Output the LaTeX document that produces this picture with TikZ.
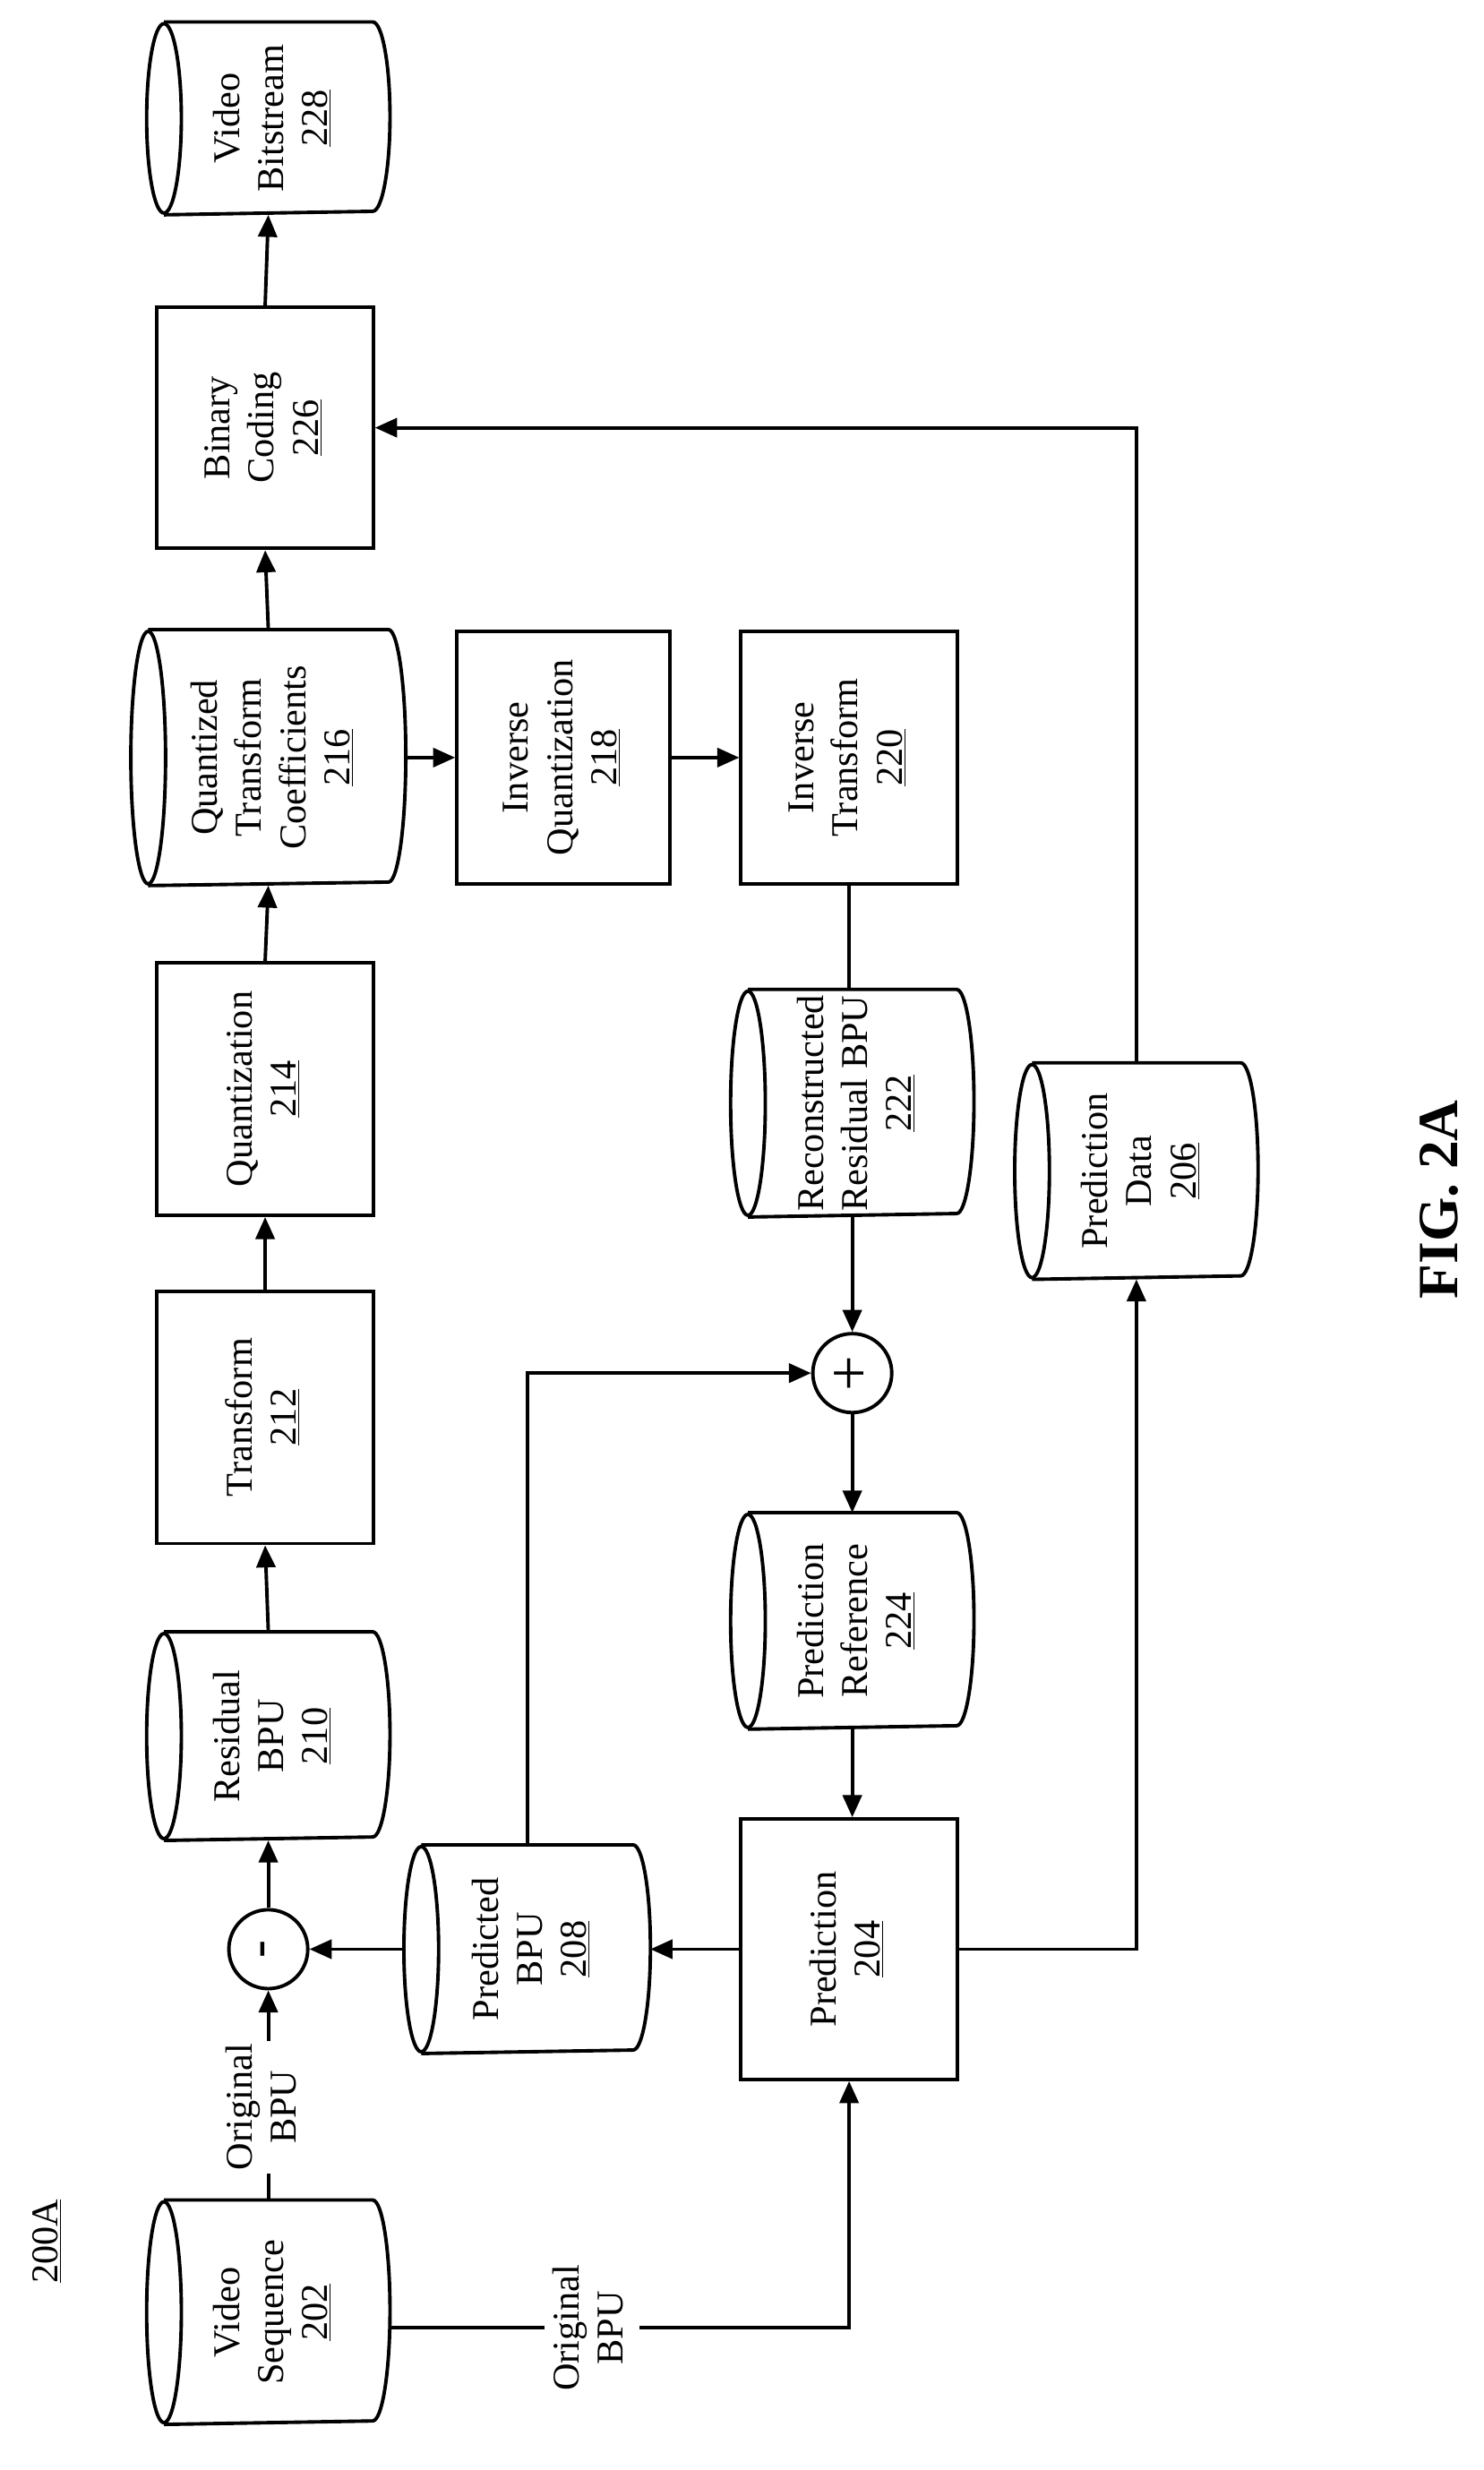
\documentclass[tikz,border=0pt]{standalone}
\usepackage{fontspec}
\setmainfont{Liberation Serif}
\usetikzlibrary{arrows.meta,calc}
\newcommand\TT[1]{\rotatebox{90}{\begin{tabular}{@{}c@{}}#1\end{tabular}}}
\newcommand\cyl[6]{%
\node[box,draw=none,minimum width=#4pt,minimum height=#5pt] (#1) at (#2,-#3) {\hspace*{8pt}\TT{#6}};
\draw[ln] (#1.west) ellipse[x radius=11pt,y radius=#5pt/2];
\draw[ln] (#1.north west) -- (#1.north east) arc[start angle=90,end angle=-90,x radius=11pt,y radius=#5pt/2] -- (#1.south west);}
\newcommand\bx[6]{\node[box,minimum width=#4pt,minimum height=#5pt] (#1) at (#2,-#3) {\TT{#6}};}
\begin{document}
\begin{tikzpicture}[x=1pt,y=1pt,
 ln/.style={line width=2.2pt},
 box/.style={draw,ln,inner sep=0pt,font=\fontsize{24}{28}\selectfont},
 arr/.style={ln,-{Triangle[length=14pt,width=12pt]}},
 lab/.style={fill=white,inner sep=2pt,font=\fontsize{24}{28}\selectfont}]
\useasboundingbox (0,0) rectangle (940,-1565);
\cyl{vs}{170}{1465}{130}{140}{Video\\Sequence\\\underline{202}}
\node[draw,ln,circle,minimum size=50pt,inner sep=0pt,font=\fontsize{34}{34}\selectfont] (mi) at (170,-1235) {\rotatebox{90}{-}};
\cyl{res}{170}{1100}{130}{130}{Residual\\BPU\\\underline{210}}
\bx{tr}{168}{898}{137}{160}{Transform\\\underline{212}}
\bx{qu}{168}{690}{137}{160}{Quantization\\\underline{214}}
\cyl{qtc}{170}{480}{150}{160}{Quantized\\Transform\\Coefficients\\\underline{216}}
\bx{bin}{168}{271}{137}{153}{Binary\\Coding\\\underline{226}}
\cyl{vb}{170}{75}{130}{120}{Video\\Bitstream\\\underline{228}}
\bx{iq}{357}{480}{135}{160}{Inverse\\Quantization\\\underline{218}}
\bx{it}{538}{480}{137}{160}{Inverse\\Transform\\\underline{220}}
\cyl{pb}{334}{1235}{132}{130}{Predicted\\BPU\\\underline{208}}
\node[draw,ln,circle,minimum size=50pt,inner sep=0pt,font=\fontsize{40}{40}\selectfont] (pl) at (540,-870) {\rotatebox{90}{+}};
\cyl{rr}{540}{699}{130}{142}{Reconstructed\\Residual BPU\\\underline{222}}
\cyl{pr}{540}{1027}{130}{135}{Prediction\\Reference\\\underline{224}}
\bx{pd}{538}{1235}{137}{165}{Prediction\\\underline{204}}
\cyl{da}{720}{742}{130}{135}{Prediction\\Data\\\underline{206}}
\node[font=\fontsize{24}{28}\selectfont] (t200) at (30,-1420) {\rotatebox{90}{\underline{200A}}};
\node[font=\fontsize{36}{40}\selectfont\bfseries] (fig) at (912,-760) {\rotatebox{90}{FIG. 2A}};
% connectors
\draw[arr] (vs.north) -- (mi.south);
\node[lab] (l1) at (168,-1335) {\TT{Original\\BPU}};
\coordinate (c1) at (538,-1475);
\draw[arr] ($(vs.east)+(11,-10)$) -- ($(vs.east -| c1)+(0,-10)$) -- (pd.south);
\node[lab] (l2) at (375,-1475) {\TT{Original\\BPU}};
\draw[arr] (mi.north) -- (res.south);
\draw[arr] (res.north) -- (tr.south);
\draw[arr] (tr.north) -- (qu.south);
\draw[arr] (qu.north) -- (qtc.south);
\draw[arr] (qtc.north) -- (bin.south);
\draw[arr] (bin.north) -- (vb.south);
\draw[arr] ($(qtc.east)+(11,0)$) -- (iq.west);
\draw[arr] (iq.east) -- (it.west);
\draw[ln] (it.south) -- (rr.north -| it.south);
\draw[arr] (rr.south) -- (pl.north);
\draw[arr] (pb.north) |- (pl.west);
\draw[arr] (pl.south) -- (pr.north);
\draw[arr] (pr.south) -- (pd.north -| pr.south);
\draw[arr] (pd.west) -- ($(pb.east)+(11,0)$);
\draw[arr] ($(pb.west)+(-11,0)$) -- (mi.east);
\draw[arr] (pd.east) -| (da.south);
\draw[arr] (da.north) |- (bin.east);
\end{tikzpicture}
\end{document}
